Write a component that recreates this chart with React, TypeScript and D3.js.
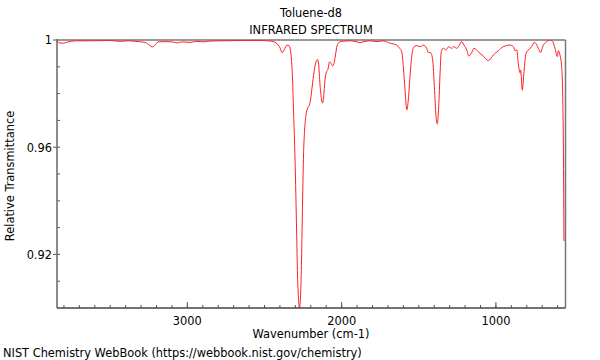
import React from "react";
import * as d3 from "d3";

// Wavenumber (cm-1) and relative transmittance
const wavenumbers = [
  3844, 3825, 3805, 3773, 3727, 3631, 3501, 3436, 3384, 3319, 3274, 3242, 3229, 3209, 3190, 3144,
  3099, 3067, 3034, 2983, 2937, 2898, 2853, 2788, 2658, 2529, 2464, 2425, 2399, 2386, 2373, 2354,
  2341, 2328, 2318, 2312, 2302, 2292, 2286, 2279, 2274, 2266, 2260, 2253, 2247, 2240, 2231, 2221,
  2211, 2202, 2192, 2179, 2166, 2156, 2150, 2140, 2130, 2124, 2117, 2108, 2098, 2088, 2079, 2069,
  2059, 2049, 2040, 2030, 2017, 1998, 1946, 1907, 1881, 1855, 1816, 1771, 1732, 1686, 1644, 1625,
  1610, 1600, 1589, 1578, 1568, 1557, 1546, 1531, 1513, 1492, 1470, 1449, 1438, 1423, 1410, 1399,
  1388, 1380, 1371, 1362, 1354, 1341, 1324, 1306, 1287, 1272, 1254, 1237, 1222, 1207, 1189, 1176,
  1157, 1142, 1114, 1082, 1049, 1017, 985, 952, 909, 887, 876, 865, 855, 844, 840, 829,
  818, 805, 790, 768, 753, 742, 725, 710, 697, 671, 650, 632, 617, 602, 596, 585,
  574, 567, 562, 559,
];
const transmittance = [
  0.9994, 0.9989, 0.9988, 0.9993, 0.9997, 0.9997, 0.9998, 0.9995, 0.9997, 0.9994, 0.9991, 0.9979, 0.9974, 0.9981, 0.9993, 0.9994,
  0.9993, 0.9989, 0.9993, 0.9991, 0.9995, 0.9993, 0.9996, 0.9997, 0.9998, 0.9998, 0.9996, 0.9989, 0.997, 0.9953, 0.9963, 0.9981,
  0.9979, 0.9944, 0.9851, 0.9739, 0.9552, 0.9291, 0.9123, 0.903, 0.8996, 0.9049, 0.9179, 0.9403, 0.9571, 0.9664, 0.972, 0.9746,
  0.9754, 0.9776, 0.9821, 0.9881, 0.9918, 0.9927, 0.9914, 0.9832, 0.9776, 0.9765, 0.9787, 0.9851, 0.9881, 0.9892, 0.9918, 0.9914,
  0.9903, 0.9914, 0.9944, 0.9978, 0.9991, 0.9995, 0.9997, 0.9994, 0.999, 0.9994, 0.9997, 0.9994, 0.9997, 0.9988, 0.9981, 0.997,
  0.9955, 0.99, 0.9813, 0.9739, 0.9776, 0.9863, 0.9938, 0.9975, 0.9979, 0.9975, 0.9981, 0.9969, 0.9953, 0.9953, 0.9925, 0.9826,
  0.9714, 0.9687, 0.9751, 0.9876, 0.9956, 0.9969, 0.9963, 0.9975, 0.9969, 0.9975, 0.9969, 0.9981, 0.9994, 0.9981, 0.9963, 0.994,
  0.9953, 0.9969, 0.9956, 0.994, 0.9923, 0.9944, 0.996, 0.9975, 0.9981, 0.9975, 0.996, 0.9963, 0.9913, 0.9878, 0.9888, 0.9813,
  0.9882, 0.995, 0.9963, 0.9975, 0.9991, 0.9988, 0.9969, 0.9953, 0.9975, 0.9994, 1.0, 0.9994, 0.9969, 0.9938, 0.996, 0.9944,
  0.99, 0.9788, 0.9552, 0.925,
];

const xMajorTicks = [3000, 2000, 1000];
const xMinorTicks = d3.range(600, 3900, 100);
const yMajorTicks = [0.92, 0.96, 1];
const yMinorTicks = d3.range(0.91, 1.0, 0.01);

const title = "Toluene-d8";
const subtitle = "INFRARED SPECTRUM";
const xLabel = "Wavenumber (cm-1)";
const yLabel = "Relative Transmittance";
const footer = "NIST Chemistry WebBook (https://webbook.nist.gov/chemistry)";

export default function App() {
  const W = 600, H = 360;
  const left = 57, right = 565.5, top = 40, bottom = 308;
  const x = d3.scaleLinear().domain([3845, 549]).range([left, right]);
  const y = d3.scaleLinear().domain([0.9, 1]).range([bottom, top]);
  const pts: [number, number][] = wavenumbers.map((w, i) => [w, transmittance[i]]);
  const line = d3
    .line<[number, number]>()
    .x((d) => x(d[0]))
    .y((d) => y(d[1]))
    .curve(d3.curveMonotoneX);
  const font = "DejaVu Sans, sans-serif";
  const fs = 11.4;
  return (
    <svg
      width={W}
      height={H}
      style={{ position: "absolute", left: 0, top: 0, background: "#fff" }}
      fontFamily={font}
    >
      <defs>
        <clipPath id="plot">
          <rect x={left} y={top} width={right - left} height={bottom - top} />
        </clipPath>
      </defs>
      <text x={311} y={17} fontSize={fs} textAnchor="middle" fill="#000">{title}</text>
      <text x={311} y={34} fontSize={fs} textAnchor="middle" fill="#000">{subtitle}</text>

      {/* frame */}
      <line x1={left} x2={right} y1={top} y2={top} stroke="#999" strokeWidth={2} />
      <line x1={right} x2={right} y1={top} y2={bottom} stroke="#777" strokeWidth={1.5} />

      {/* x ticks */}
      {xMinorTicks.filter((t) => x(t) > left + 1 && x(t) < right - 1).map((t) => (
        <line key={"xm" + t} x1={x(t)} x2={x(t)} y1={bottom} y2={bottom - 3} stroke="#555" strokeWidth={1} />
      ))}
      {xMajorTicks.map((t) => (
        <g key={"xM" + t}>
          <line x1={x(t)} x2={x(t)} y1={bottom} y2={bottom - 6} stroke="#555" strokeWidth={1} />
          <text x={x(t)} y={325} fontSize={fs} textAnchor="middle" fill="#000">{t}</text>
        </g>
      ))}

      {/* y ticks */}
      {yMinorTicks.map((t) => (
        <line key={"ym" + t.toFixed(2)} x1={left} x2={left + 3} y1={y(t)} y2={y(t)} stroke="#555" strokeWidth={1} />
      ))}
      {yMajorTicks.map((t) => (
        <g key={"yM" + t}>
          <line x1={left - 4} x2={left} y1={y(t)} y2={y(t)} stroke="#555" strokeWidth={1} />
          <text x={left - 5} y={y(t) + 4.3} fontSize={fs} textAnchor="end" fill="#000">{String(t)}</text>
        </g>
      ))}

      <path d={line(pts) || ""} fill="none" stroke="#ff2020" strokeWidth={1} clipPath="url(#plot)" />

      <line x1={left} x2={left} y1={top - 1} y2={bottom} stroke="#666" strokeWidth={1.5} />
      <line x1={left} x2={right} y1={bottom} y2={bottom} stroke="#444" strokeWidth={1.5} />

      <text x={311} y={337.5} fontSize={fs} textAnchor="middle" fill="#000">{xLabel}</text>
      <text
        transform={`translate(14, ${(top + bottom) / 2 + 2}) rotate(-90)`}
        fontSize={fs}
        textAnchor="middle"
        fill="#000"
      >
        {yLabel}
      </text>
      <text x={3} y={357} fontSize={fs} fill="#000">{footer}</text>
    </svg>
  );
}
